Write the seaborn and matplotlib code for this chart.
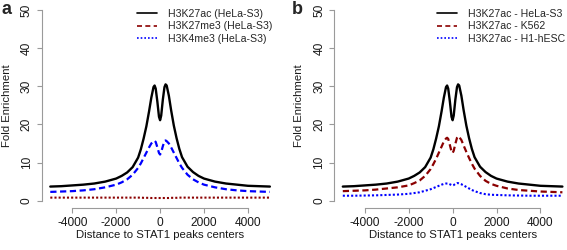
import matplotlib
matplotlib.use("Agg")
import matplotlib.pyplot as plt
from matplotlib.lines import Line2D
import pandas as pd
import seaborn as sns

## Data (distance to STAT1 peak centre, fold enrichment)
pos = [-5000, -4500, -4000, -3500, -3000, -2500, -2000, -1750, -1500, -1250,
       -1000, -875, -750, -625, -500, -400, -300, -250, -200, -125, -50, 0,
       50, 125, 200, 250, 300, 400, 500, 625, 750, 875, 1000, 1250, 1500,
       1750, 2000, 2500, 3000, 3500, 4000, 4500, 5000]

h3k27ac_hela = [3.7, 3.8, 4.0, 4.2, 4.5, 5.0, 5.8, 6.5, 7.4, 8.8,
                11.3, 13.5, 16.3, 19.5, 23.5, 27.0, 29.8, 30.2, 29.4, 26.0, 22.0, 21.1,
                22.3, 26.5, 29.8, 30.5, 30.2, 27.5, 23.8, 19.7, 16.4, 13.6, 11.4, 8.9, 7.5,
                6.5, 5.8, 5.0, 4.5, 4.2, 3.9, 3.8, 3.7]

# panel a: peaked curve (blue dashed) and flat curve (dark red dotted)
h3k4me3_hela = [2.3, 2.4, 2.5, 2.7, 3.0, 3.5, 4.2, 4.8, 5.6, 6.8,
                8.6, 9.8, 11.2, 12.6, 14.0, 15.0, 15.6, 15.7, 15.4, 14.0, 12.5, 12.1,
                12.7, 14.3, 15.6, 15.8, 15.6, 15.0, 14.0, 12.6, 11.2, 9.8, 8.6, 6.8, 5.6,
                4.8, 4.2, 3.5, 3.0, 2.7, 2.5, 2.4, 2.3]
h3k27me3_hela = [0.8, 0.8, 0.8, 0.8, 0.8, 0.8, 0.8, 0.8, 0.8, 0.8,
                 0.8, 0.8, 0.75, 0.75, 0.75, 0.7, 0.7, 0.7, 0.7, 0.7, 0.7, 0.7,
                 0.7, 0.7, 0.7, 0.7, 0.7, 0.7, 0.75, 0.75, 0.75, 0.8, 0.8, 0.8, 0.8,
                 0.8, 0.8, 0.8, 0.8, 0.8, 0.8, 0.8, 0.8]

# panel b
h3k27ac_k562 = [2.5, 2.6, 2.7, 2.9, 3.2, 3.5, 4.0, 4.6, 5.3, 6.5,
                8.3, 9.6, 11.0, 12.6, 14.2, 15.5, 16.3, 16.5, 16.2, 14.6, 12.9, 12.5,
                13.1, 14.9, 16.5, 16.9, 16.7, 15.9, 14.5, 12.8, 11.2, 9.7, 8.4, 6.5, 5.2,
                4.4, 3.9, 3.2, 2.8, 2.6, 2.4, 2.3, 2.2]
h3k27ac_h1 = [1.3, 1.3, 1.35, 1.4, 1.5, 1.6, 1.8, 2.0, 2.2, 2.6,
              3.0, 3.3, 3.6, 3.9, 4.2, 4.4, 4.5, 4.5, 4.5, 4.3, 4.1, 4.0,
              4.1, 4.4, 4.6, 4.6, 4.5, 4.3, 4.0, 3.6, 3.2, 2.8, 2.5, 2.0, 1.7,
              1.55, 1.5, 1.4, 1.35, 1.3, 1.3, 1.3, 1.3]

legend_a = ['H3K27ac (HeLa-S3)', 'H3K27me3 (HeLa-S3)', 'H3K4me3 (HeLa-S3)']
legend_b = ['H3K27ac - HeLa-S3', 'H3K27ac - K562', 'H3K27ac - H1-hESC']

yticks = [0, 10, 20, 30, 40, 50]
xticks = [-4000, -2000, 0, 2000, 4000]

sns.set_style("ticks")
plt.rcParams['font.family'] = ['Liberation Sans', 'DejaVu Sans']

DARKRED = '#8B0000'
BLUE = '#0000FF'
AXCOL = '#9a9a9a'
DASH = (2.8, 1.6)
DOT = (1.0, 1.0)

fig = plt.figure(figsize=(5.67, 2.5), dpi=100)
ax_a = fig.add_axes([0.0732, 0.1668, 0.4183, 0.8236])
ax_b = fig.add_axes([0.5891, 0.1668, 0.4183, 0.8236])


def draw(ax, series):
    for vals, col, dash, lw in series:
        df = pd.DataFrame({'pos': pos, 'value': vals})
        sns.lineplot(data=df, x='pos', y='value', color=col, linewidth=lw, ax=ax)
        if dash is not None:
            ax.lines[-1].set_dashes(dash)


draw(ax_a, [(h3k27me3_hela, DARKRED, DOT, 1.5),
            (h3k4me3_hela, BLUE, DASH, 1.6),
            (h3k27ac_hela, 'black', None, 1.7)])
draw(ax_b, [(h3k27ac_h1, BLUE, DOT, 1.5),
            (h3k27ac_k562, DARKRED, DASH, 1.6),
            (h3k27ac_hela, 'black', None, 1.7)])

for ax, labels, x0 in [(ax_a, legend_a, 0.4026), (ax_b, legend_b, 0.4343)]:
    ax.set_xlim(-5400, 5400)
    ax.set_ylim(-2, 52)
    ax.set_xticks(xticks)
    ax.set_yticks(yticks)
    ax.set_xticklabels([str(t) for t in xticks])
    ax.set_yticklabels([str(t) for t in yticks], rotation=90, va='center')
    for s in ['top', 'right']:
        ax.spines[s].set_visible(False)
    ax.spines['left'].set_bounds(0, 50)
    ax.spines['bottom'].set_bounds(-4000, 4000)
    for s in ['left', 'bottom']:
        ax.spines[s].set_color(AXCOL)
        ax.spines[s].set_linewidth(0.8)
    ax.tick_params(length=3.6, width=0.8, color=AXCOL, labelsize=8.6,
                   labelcolor='#1a1a1a', pad=2.6)
    ax.set_xlabel('Distance to STAT1 peaks centers', fontsize=8.2, color='#1a1a1a')
    ax.set_ylabel('Fold Enrichment', fontsize=8.2, color='#1a1a1a')
    ax.xaxis.set_label_coords(0.5, -0.103)
    ax.yaxis.set_label_coords(-0.125, 0.5)
    handles = [Line2D([], [], color='black', lw=1.2),
               Line2D([], [], color=DARKRED, lw=1.2, dashes=(3, 2)),
               Line2D([], [], color=BLUE, lw=1.2, dashes=(1, 1.2))]
    ax.legend(handles, labels, loc='upper left', bbox_to_anchor=(x0, 0.968),
              frameon=False, fontsize=7.6, borderpad=0, borderaxespad=0,
              handlelength=1.9, handletextpad=1.0, labelspacing=0.22)

fig.text(7 / 567, 1 - 10 / 250, 'a', ha='center', va='center',
         fontsize=13, fontweight='bold')
fig.text(297 / 567, 1 - 10 / 250, 'b', ha='center', va='center',
         fontsize=13, fontweight='bold')

fig.savefig('out.png', dpi=100)
